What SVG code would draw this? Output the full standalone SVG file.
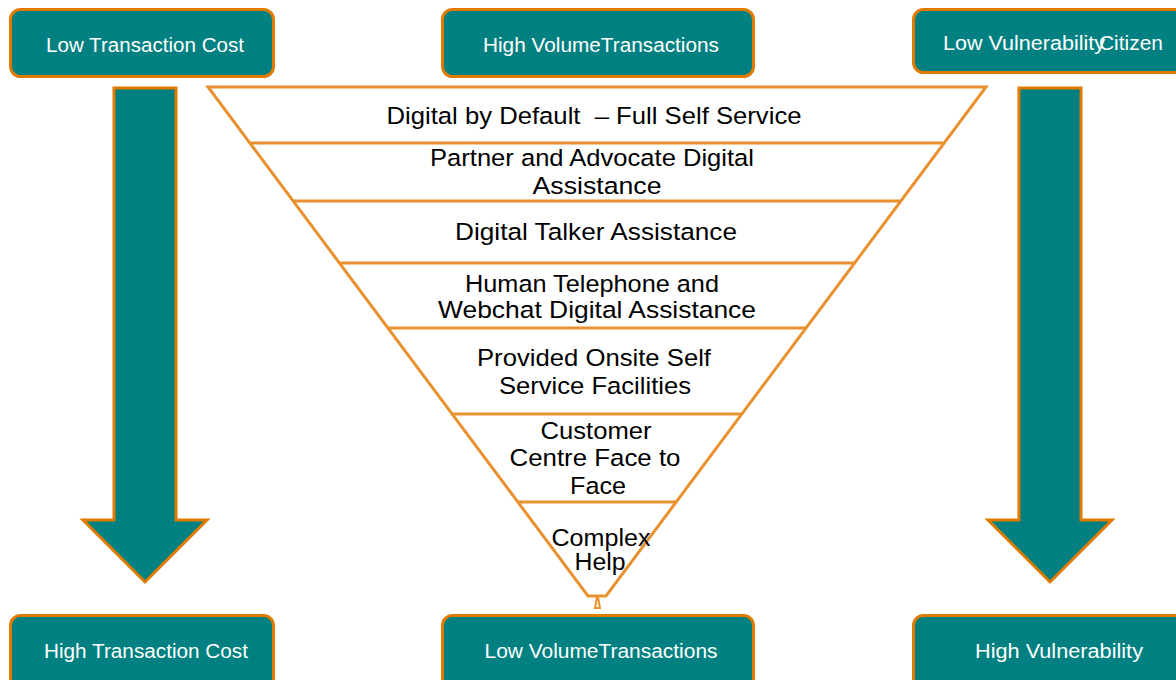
<svg xmlns="http://www.w3.org/2000/svg" width="1176" height="680" viewBox="0 0 1176 680">
<style>
.box{fill:#008080;stroke:#E07B00;stroke-width:3}
.arrow{fill:#008080;stroke:#E07B00;stroke-width:3;stroke-linejoin:miter}
.bt{font-family:"Liberation Sans",Arial,sans-serif;font-size:19.5px;fill:#ffffff;text-anchor:middle}
.fl{fill:none;stroke:#E8912E;stroke-width:3}
.ft{font-family:"Liberation Sans",Arial,sans-serif;font-size:24.5px;fill:#000000;text-anchor:middle}
</style>
<rect width="1176" height="680" fill="#ffffff"/>
<g id="top-left"><rect class="box" x="10.5" y="9.5" width="263" height="67" rx="10"/><text class="bt" x="145" y="52" textLength="198" lengthAdjust="spacingAndGlyphs">Low Transaction Cost</text></g>
<g id="top-mid"><rect class="box" x="442.5" y="9.5" width="311" height="67" rx="10"/><text class="bt" x="601" y="52" textLength="236" lengthAdjust="spacingAndGlyphs">High VolumeTransactions</text></g>
<g id="top-right"><rect class="box" x="913.5" y="9.5" width="280" height="63" rx="10"/><text class="bt" x="943" y="50" style="text-anchor:start" textLength="162" lengthAdjust="spacingAndGlyphs">Low Vulnerability</text><text class="bt" x="1099" y="50" style="text-anchor:start" textLength="64" lengthAdjust="spacingAndGlyphs">Citizen</text></g>
<g id="bot-left"><rect class="box" x="10.5" y="615.5" width="263" height="75" rx="10"/><text class="bt" x="146" y="658" textLength="204" lengthAdjust="spacingAndGlyphs">High Transaction Cost</text></g>
<g id="bot-mid"><rect class="box" x="442.5" y="615.5" width="311" height="75" rx="10"/><text class="bt" x="601" y="658" textLength="233" lengthAdjust="spacingAndGlyphs">Low VolumeTransactions</text></g>
<g id="bot-right"><rect class="box" x="913.5" y="615.5" width="280" height="75" rx="10"/><text class="bt" x="1059" y="658" textLength="168" lengthAdjust="spacingAndGlyphs">High Vulnerability</text></g>
<g id="arrow-left"><polygon class="arrow" points="114,88 176,88 176,520 207,520 145,582 83,520 114,520"/></g>
<g id="arrow-right"><polygon class="arrow" points="1019,88 1081,88 1081,520 1112,520 1050,582 988,520 1019,520"/></g>
<g id="funnel">
<polygon class="fl" points="208,87 986,87 606,596 588,596"/>
<polygon class="fl" points="595,608 600,608 598,597 597,597" style="stroke-width:2"/>
<line class="fl" x1="250" y1="143" x2="944" y2="143"/>
<line class="fl" x1="294" y1="201" x2="900" y2="201"/>
<line class="fl" x1="340" y1="263" x2="854" y2="263"/>
<line class="fl" x1="388" y1="328" x2="806" y2="328"/>
<line class="fl" x1="453" y1="414" x2="741" y2="414"/>
<line class="fl" x1="518" y1="502" x2="676" y2="502"/>
</g>
<g id="funnel-text">
<text class="ft" x="594" y="124" textLength="415" lengthAdjust="spacingAndGlyphs" xml:space="preserve">Digital by Default  – Full Self Service</text>
<text class="ft" x="592" y="166" textLength="324" lengthAdjust="spacingAndGlyphs">Partner and Advocate Digital</text>
<text class="ft" x="597" y="194" textLength="129" lengthAdjust="spacingAndGlyphs">Assistance</text>
<text class="ft" x="596" y="240" textLength="282" lengthAdjust="spacingAndGlyphs">Digital Talker Assistance</text>
<text class="ft" x="592" y="292" textLength="254" lengthAdjust="spacingAndGlyphs">Human Telephone and</text>
<text class="ft" x="597" y="318" textLength="318" lengthAdjust="spacingAndGlyphs">Webchat Digital Assistance</text>
<text class="ft" x="594" y="366" textLength="234" lengthAdjust="spacingAndGlyphs">Provided Onsite Self</text>
<text class="ft" x="595" y="394" textLength="192" lengthAdjust="spacingAndGlyphs">Service Facilities</text>
<text class="ft" x="596" y="439" textLength="111" lengthAdjust="spacingAndGlyphs">Customer</text>
<text class="ft" x="595" y="466" textLength="171" lengthAdjust="spacingAndGlyphs">Centre Face to</text>
<text class="ft" x="598" y="494" textLength="56" lengthAdjust="spacingAndGlyphs">Face</text>
<text class="ft" x="601" y="546" style="font-size:23px" textLength="99" lengthAdjust="spacingAndGlyphs">Complex</text>
<text class="ft" x="600" y="570" style="font-size:23px" textLength="51" lengthAdjust="spacingAndGlyphs">Help</text>
</g>
</svg>
